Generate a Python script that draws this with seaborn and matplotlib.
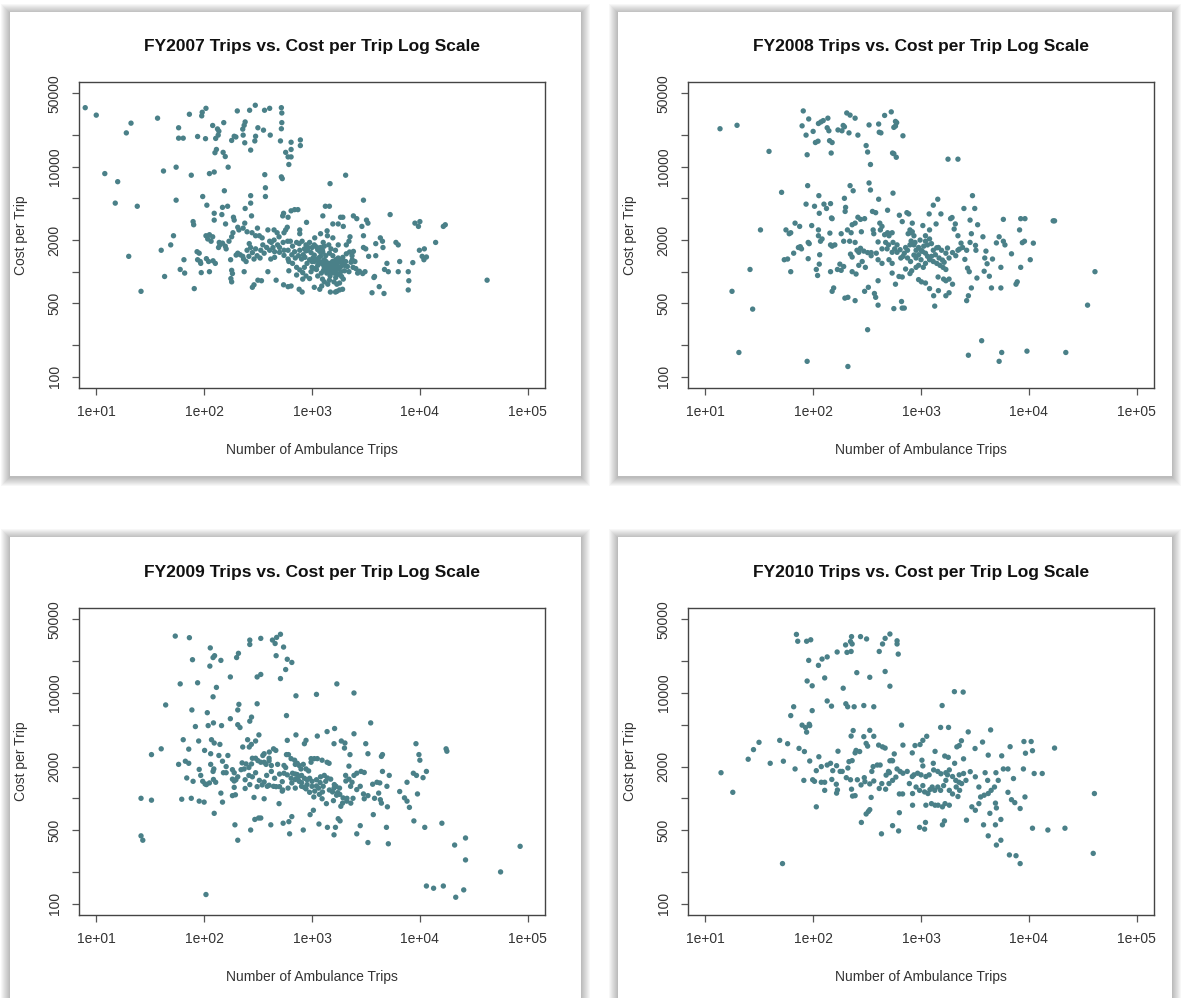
import matplotlib
matplotlib.use("Agg")
import matplotlib.pyplot as plt
from matplotlib.patches import Rectangle
from matplotlib.ticker import FixedLocator, NullLocator
import seaborn as sns
import pandas as pd

# --- data: (number of ambulance trips, cost per trip) ---
fy2007 = [
    (7.9, 36500), (10, 31000), (73, 31600), (95, 30500), (96, 33000), (104, 36000), (203, 34000), (264, 34500),
    (298, 38500), (363, 34500), (405, 36000), (520, 36500), (525, 32500), (37, 29000),
    (21, 26000), (19, 21000), (58, 23500), (58, 18700), (64, 18700), (87, 19400), (103, 18500), (120, 24700),
    (133, 22900), (137, 21800), (128, 18600), (135, 20000), (152, 26300), (190, 19500), (180, 17800), (197, 19200),
    (230, 20000), (235, 24800), (240, 26700), (228, 22800), (315, 23500), (355, 22300), (410, 20000), (295, 17600),
    (300, 19500), (238, 16900), (270, 14400), (525, 26300), (520, 23000), (510, 17600), (640, 17100), (640, 14600),
    (780, 18000), (780, 15900),
    (130, 14600), (126, 13600), (150, 13700), (157, 12500), (570, 13700), (600, 12400), (640, 12400), (610, 10500),
    (167, 9900), (42, 9100), (55, 9900), (12, 8600), (76, 8300), (112, 8600), (124, 8900), (365, 8400), (530, 7700),
    (520, 8000), (2050, 8300), (15.8, 7200), (1470, 6900), (370, 6300), (154, 5900),
    (97, 5200), (270, 5300), (370, 5200), (55, 4800), (3000, 4800), (15, 4500), (24, 4200), (106, 4300), (148, 4100),
    (165, 4200), (270, 4500), (240, 4000), (1330, 4200), (1450, 4200), (640, 3800), (690, 3900), (740, 3900),
    (124, 3600), (146, 3500), (275, 3400), (545, 3600), (535, 3400), (600, 3300), (1260, 3400), (1840, 3300),
    (1930, 3300), (2420, 3400), (2600, 3200), (5300, 3500),
    (79, 3000), (80, 2800), (124, 3100), (158, 2850), (190, 3100), (187, 3300), (238, 2900), (210, 2500), (205, 2650),
    (250, 2400), (230, 2600), (312, 2600), (390, 2500), (445, 2500), (475, 2350), (570, 2500), (590, 2650),
    (890, 2950), (1560, 2850), (1750, 2850), (1950, 2700), (2900, 2700), (3200, 3100), (3300, 2900), (9000, 2900),
    (10000, 3000), (9700, 2700), (16500, 2700), (17200, 2800), (770, 2500), (770, 2300), (1380, 2450),
    (52, 2200), (49, 1800), (104, 2200), (112, 2250), (108, 2050), (116, 1950), (120, 2150), (138, 1900), (140, 1800),
    (148, 1870), (157, 1750), (136, 1700), (170, 1950), (180, 2150), (185, 2350), (262, 1850), (278, 2350),
    (300, 2200), (325, 2200), (345, 2100), (405, 1950), (445, 2000), (495, 2150), (550, 2350), (595, 1950),
    (630, 1950), (810, 1950), (950, 1900), (1060, 2100), (1200, 2300), (1270, 1900), (1100, 1720), (880, 1800),
    (760, 1850), (1390, 2200), (1560, 2100), (1750, 1800), (1430, 1800), (2200, 1950), (2080, 1800), (2250, 2150),
    (3000, 2200), (3900, 1850), (4300, 2100), (4500, 1950), (6000, 1900), (6300, 1800), (14000, 1900),
    (40, 1600), (86, 1550), (90, 1500), (87, 1300), (92, 1250), (105, 1330), (110, 1250), (121, 1270), (127, 1200),
    (65, 1300), (20, 1400), (160, 1650), (176, 1300), (198, 1440), (205, 1500), (216, 1450), (228, 1400),
    (232, 1320), (245, 1250), (270, 1700), (280, 1520), (290, 1320), (310, 1420), (335, 1600), (360, 1500),
    (405, 1600), (415, 1320), (450, 1370), (480, 1800), (500, 1530), (540, 1900), (550, 1430), (600, 1320),
    (610, 1250), (435, 1700), (660, 1750), (720, 1900), (770, 1600), (830, 1450), (860, 1370), (800, 1320),
    (750, 1420), (690, 1550), (880, 1580), (910, 1600), (980, 1520), (1050, 1440), (1130, 1620), (1180, 1560),
    (1260, 1530), (1340, 1420), (1450, 1500), (1560, 1420), (1660, 1300), (1800, 1240), (1930, 1370), (2080, 1480),
    (2230, 1540), (2350, 1420), (2420, 1560), (1300, 1300), (1220, 1240), (1130, 1150), (1060, 1070), (980, 1000),
    (3000, 1700), (3150, 1650), (3350, 1400), (3900, 1420), (2360, 1300), (2500, 1250), (9900, 1600), (11000, 1650),
    (10500, 1400), (11500, 1380), (10900, 1300), (4950, 1200), (6500, 1250), (4550, 1700),
    (60, 1050), (66, 970), (93, 1200), (94, 980), (112, 1000), (43, 900), (180, 1030), (183, 960), (177, 860),
    (180, 800), (235, 1000), (390, 1000), (315, 830), (340, 820), (660, 1200), (720, 1100), (770, 1040), (820, 980),
    (880, 910), (950, 860), (820, 850), (720, 930), (610, 1020), (1370, 970), (1280, 1030), (1220, 970), (1130, 910),
    (1250, 850), (1450, 830), (1660, 880), (1800, 940), (1600, 970), (1470, 910), (1700, 1050), (1850, 1120),
    (2000, 1020), (2130, 1120), (2300, 1230), (1950, 1200), (1530, 1160), (1330, 1190), (1650, 1170), (1800, 780),
    (1950, 850), (1560, 1030), (2550, 1070), (2650, 970), (2750, 1010), (2950, 960), (3100, 1000), (3800, 900),
    (3750, 880), (4700, 1050), (5100, 1000), (6300, 1000), (7800, 1000), (8600, 1220),
    (26, 650), (81, 690), (280, 710), (290, 750), (465, 830), (545, 750), (600, 720), (640, 730), (760, 680),
    (810, 640), (1050, 710), (1180, 680), (1230, 730), (1480, 640), (1650, 640), (1700, 650), (1800, 670),
    (1920, 680), (3600, 630), (4200, 720), (4650, 620), (7900, 820), (7800, 670), (42000, 830),
    # the dense core around 1e+03 trips
    (1000, 1250), (1020, 1350), (1080, 1300), (1150, 1350), (1200, 1400), (1250, 1180), (1300, 1100), (1350, 1250),
    (1400, 1150), (1400, 1050), (1450, 1200), (1500, 1100), (1500, 980), (1550, 1250), (1600, 1150), (1620, 1060),
    (1700, 1200), (1720, 950), (1750, 1350), (1780, 1100), (1850, 1000), (1880, 900), (1900, 1300), (2000, 1150),
    (2050, 1250), (1150, 1250), (1100, 1050), (1000, 1100), (900, 1200), (850, 1100), (950, 1300), (1050, 1250),
    (1700, 760), (1600, 800), (1400, 760), (1300, 800), (2200, 1000), (2400, 1100), (1000, 1700), (1050, 1800),
    (920, 1700), (850, 1650), (1200, 1700), (1300, 1750), (1250, 1600), (1500, 1650), (1650, 1600), (600, 1600),
    (650, 1450), (700, 1350), (550, 1600), (500, 1700), (450, 1550), (380, 1700), (350, 1800), (420, 1900),
    (300, 1650), (330, 1350), (260, 1400), (250, 1600),
]

fy2008 = [
    (13.7, 23000), (19.7, 24800), (39, 14000), (51, 5700), (32.5, 2500), (26, 1050), (17.7, 650), (27.5, 440),
    (20.5, 170), (88, 140), (210, 125), (320, 280), (3650, 220), (2750, 160), (5300, 140), (5600, 170), (9600, 175),
    (22000, 170), (35000, 480), (41000, 1000),
    (81, 34000), (91, 28500), (79, 24500), (86, 20000), (100, 21700), (112, 25800), (118, 26700), (124, 27500),
    (137, 29000), (135, 23500), (140, 22000), (105, 17000), (111, 17500), (142, 17700), (150, 17000), (147, 13500),
    (88, 13000), (170, 22400), (185, 22000), (190, 24700), (195, 24000), (215, 21000), (205, 32500), (220, 31000),
    (245, 29000), (260, 20000), (330, 25000), (405, 25500), (410, 21300), (425, 21000), (310, 15900), (320, 13800),
    (340, 10500), (460, 30800), (530, 33300), (560, 23700), (580, 24400), (595, 26300), (580, 27000), (680, 19700),
    (545, 13500), (560, 13300), (590, 12300), (1780, 11800), (2200, 11800),
    (330, 7000), (340, 6000), (550, 5600), (405, 4900), (220, 6600), (235, 5900), (195, 5000), (200, 4100),
    (198, 3750), (89, 6600), (113, 5300), (103, 4200), (126, 4400), (145, 4450), (133, 4000), (114, 3600),
    (150, 3200), (86, 4400), (68, 2900), (75, 2700), (97, 2750),
    (56, 2500), (60, 2300), (62, 2350), (66, 1500), (54, 1300), (58, 1320), (62, 1000), (90, 1900), (92, 1850),
    (90, 1330), (73, 1700), (76, 1730), (78, 1650), (107, 1050), (110, 920), (114, 1180), (115, 1450), (112, 2500),
    (112, 2200), (117, 1950), (121, 2050),
    (145, 1800), (150, 1750), (159, 1800), (143, 2330), (148, 3250), (150, 650), (155, 700), (145, 1000),
    (168, 1050), (177, 1180), (182, 1030), (192, 1120),
    (182, 2300), (192, 1950), (208, 2500), (218, 1950), (245, 1900), (222, 1470), (230, 1380), (255, 1600),
    (265, 1530), (275, 1670), (295, 1570), (320, 1520), (345, 1520),
    (230, 2800), (245, 2900), (260, 3300), (275, 3150), (300, 3200), (280, 2400), (225, 2350),
    (197, 560), (210, 570), (245, 530), (300, 650), (325, 710), (380, 570), (400, 480), (370, 620),
    (230, 1000), (250, 950), (265, 1150), (285, 1250), (305, 1100), (345, 1420),
    (355, 3750), (380, 3650), (490, 3850), (360, 2500), (365, 2300), (415, 2900), (435, 2700), (420, 2500),
    (460, 2250), (490, 2350), (505, 2200), (540, 2350), (400, 1920), (385, 1500),
    (435, 1650), (485, 1650), (540, 1530), (570, 1650), (600, 1530), (640, 1620), (400, 1300), (435, 1200),
    (505, 1300), (540, 1200), (400, 820), (540, 970), (625, 900), (670, 890), (720, 1060), (580, 760), (560, 445),
    (660, 520), (670, 450), (700, 450),
    (630, 3450), (670, 3000), (740, 3650), (770, 3550), (830, 2900), (790, 2500), (760, 2300), (800, 2350),
    (830, 2400), (860, 2200), (810, 1960), (790, 1800), (830, 1850), (860, 1800), (900, 1600), (860, 1440),
    (820, 1020), (790, 960), (950, 1150), (1000, 1300), (1030, 1560), (1060, 1750),
    (1040, 2750), (1200, 2500), (1190, 3550), (1300, 4300), (1430, 4900), (1530, 3550), (1380, 2850),
    (1100, 1950), (1150, 1800), (1250, 1850), (1300, 1600), (1400, 1690), (1360, 1450), (1470, 1350), (1580, 1290),
    (1640, 1230), (1700, 1500), (1760, 1680), (1820, 1350), (1960, 1520), (2100, 1420), (2200, 1600), (2270, 1640),
    (2430, 1700), (2350, 1870), (2200, 2200), (2030, 2550), (1880, 3200), (1940, 3280), (2080, 2850),
    (950, 840), (1010, 800), (1100, 780), (1200, 690), (1310, 590), (1340, 470), (1440, 890), (1620, 850),
    (1700, 820), (1820, 850), (1960, 760), (1820, 630), (1700, 590), (1450, 660),
    (2500, 4000), (3000, 5300), (3150, 4000), (2850, 3100), (3350, 2800), (2930, 2300), (2850, 1900), (2650, 1600),
    (2550, 1310), (2700, 1080), (2800, 1000), (2930, 700), (2750, 590), (2650, 530),
    (3200, 1780), (3230, 1600), (3750, 2150), (4000, 1570), (3900, 1350), (4100, 1190), (3850, 1010), (4300, 905),
    (3300, 870), (4500, 700), (5500, 700), (4600, 1320), (5000, 1880), (5300, 2150), (5800, 1950), (6000, 1800),
    (5500, 1100), (6900, 1480),
    (5800, 3150), (8200, 2500), (8400, 3200), (9200, 3200), (8700, 1890), (9100, 1950), (11000, 1870),
    (10300, 1300), (8400, 1100), (7800, 800), (7600, 760), (16800, 3050), (17300, 3050),
    # denser centre
    (700, 1500), (720, 1700), (750, 1600), (680, 1400), (650, 1350), (750, 1350), (800, 1250), (900, 1350),
    (950, 1450), (1000, 1600), (1100, 1500), (1150, 1400), (1200, 1300), (1250, 1400), (1300, 1250), (1400, 1200),
    (1500, 1150), (1100, 1200), (1050, 1100), (900, 1100), (1600, 1100), (1700, 1050), (1550, 1600), (1450, 1700),
    (950, 1700), (880, 1900), (980, 2000), (1100, 2200), (1200, 2050), (600, 1800), (550, 1900), (470, 1900),
    (500, 1800),
]

fy2009 = [
    (54, 34700), (73, 33500), (78, 20700), (114, 26800), (121, 21700), (125, 22600), (143, 20400), (113, 18000),
    (200, 21700), (208, 23800), (265, 31800), (265, 28900), (335, 33000), (430, 31800), (455, 29500), (470, 33700),
    (510, 36100), (545, 27300), (465, 22600), (590, 20900), (650, 19500), (570, 16700), (510, 13700),
    (175, 14200), (310, 14200), (335, 15000), (60, 12200), (87, 12500), (130, 11300), (121, 9200), (710, 9400),
    (1100, 9700), (1700, 12200), (2450, 10000),
    (44, 7700), (77, 6900), (107, 6500), (210, 7800), (205, 6900), (310, 7900), (580, 6100), (275, 5900),
    (265, 5400), (3500, 5200),
    (83, 4800), (109, 4900), (122, 5200), (145, 4900), (175, 5700), (205, 5000), (215, 4700), (322, 4000),
    (64, 3600), (89, 3500), (117, 3600), (124, 3350), (140, 3250), (72, 2930), (101, 2850), (115, 2650), (253, 3600),
    (274, 3250), (262, 3070), (228, 3070), (300, 3500), (402, 2750), (440, 2950), (462, 2850), (360, 2650),
    (880, 3550), (850, 3300), (710, 4000), (590, 3550), (580, 2600), (1120, 3900), (1380, 4300), (1620, 4600),
    (1600, 3300), (1870, 3500), (2020, 3350), (2000, 3000), (2450, 4100), (3150, 3300), (3300, 2650), (2250, 2600),
    (4500, 2600), (4400, 2500), (9200, 3300), (9800, 2600), (10000, 2300), (17500, 2950), (17800, 2800),
    (32.5, 2600), (40, 2950), (26, 1000), (32.5, 960), (26, 440), (27, 400), (104, 122), (58, 2100), (67, 2250),
    (72, 2150), (69, 1560), (79, 1450), (62, 980), (76, 1000), (90, 940), (100, 920), (124, 720), (148, 920),
    (143, 1120),
    (193, 560), (205, 400), (270, 500), (295, 630), (320, 650), (335, 650), (415, 560), (540, 580), (610, 600),
    (620, 460), (650, 670), (830, 500),
    (960, 700), (1030, 770), (1160, 570), (1390, 530), (1650, 530), (1600, 450), (1820, 610), (2600, 460),
    (2800, 550), (3300, 380), (3700, 700), (4900, 530), (5100, 370),
    (8800, 610), (11100, 530), (16000, 580), (21000, 360), (26500, 420), (26500, 260), (56000, 200), (85000, 350),
    (11500, 147), (13400, 140), (16500, 147), (21500, 115), (25500, 135),
    (90, 1880), (93, 1650), (97, 1450), (102, 1370), (105, 1350), (112, 1400), (122, 1510), (128, 1420),
    (115, 2100), (123, 1900), (121, 1800),
    (137, 2550), (148, 2250), (160, 2000), (151, 1750), (166, 2550), (160, 1750), (183, 1870), (190, 1750),
    (183, 1520), (190, 1460), (197, 1500), (190, 1270), (183, 1060), (195, 1080), (205, 1600),
    (225, 2170), (220, 1870), (235, 1900), (245, 2120), (260, 1960), (275, 2120), (280, 2400), (300, 2400),
    (315, 2280), (335, 2200), (350, 2550), (360, 2200), (375, 2100), (400, 2400), (400, 2270),
    (240, 1240), (265, 1350), (290, 1020), (310, 1290), (325, 1480), (345, 1340), (360, 1430), (385, 1300),
    (400, 1330), (440, 1300), (465, 1290), (500, 1290), (495, 890), (530, 1440), (550, 1730), (570, 1960),
    (530, 1170), (535, 1200), (360, 990),
    (605, 2600), (640, 2380), (690, 2300), (700, 2100), (730, 2150), (760, 2050), (790, 1900), (830, 2100),
    (880, 1900), (930, 1820), (980, 2380), (980, 2200), (1050, 2380), (1120, 2380), (1240, 2300), (1380, 2200),
    (1440, 2150),
    (590, 1670), (640, 1550), (660, 1730), (700, 1510), (730, 1680), (760, 1450), (800, 1410), (850, 1270),
    (880, 1230), (950, 1140), (1060, 1170), (1100, 1310), (1190, 1410), (1270, 1300), (1340, 1450), (1390, 1560),
    (1490, 1520), (1610, 1350), (1670, 1300), (1730, 1130), (1810, 1090), (1940, 1010), (2100, 940), (1850, 840),
    (1750, 640),
    (1040, 1030), (1170, 1090), (1240, 990), (1360, 890), (1580, 950), (1690, 1070), (1920, 900), (2110, 1000),
    (2290, 900), (2400, 1000), (2600, 1210), (2800, 1300), (3000, 1100), (3300, 1060), (3050, 990), (3650, 1360),
    (2050, 1650), (2200, 1520), (2350, 1420), (2280, 1300), (2450, 1650), (2600, 1730), (2850, 1800), (3050, 1760),
    (2200, 2020), (2060, 1460),
    (4000, 1420), (4250, 1400), (4500, 1800), (4950, 1300), (4150, 1120), (4300, 970), (4400, 900), (5000, 830),
    (3800, 1000), (5200, 1650), (6500, 1160), (7200, 1010), (7600, 940), (8000, 820), (7600, 1420), (8700, 1730),
    (9300, 1650), (10700, 1570), (11500, 1800), (9500, 1100),
    # denser centre
    (700, 1700), (750, 1600), (800, 1650), (850, 1550), (900, 1500), (950, 1550), (1000, 1450), (1100, 1500),
    (1200, 1600), (1300, 1650), (1000, 1300), (900, 1350), (800, 1300), (1150, 1250), (1250, 1150), (1450, 1200),
    (1550, 1150), (1600, 1250), (1800, 1250), (650, 1400), (600, 1250), (700, 1250), (500, 1700), (450, 1550),
    (420, 1800), (380, 1650), (300, 1750), (280, 1600), (260, 1650), (240, 1500), (420, 2050), (480, 2100),
    (550, 2050),
]

fy2010 = [
    (14, 1750), (18, 1140), (25, 2350), (28, 2900), (31.5, 3400), (40, 2150), (49, 3550), (53, 2250), (58, 3300),
    (52, 240),
    (62, 6100), (66, 7400), (74, 2980), (79, 4950), (83, 2780), (87, 4250), (85, 4700), (92, 5050), (93, 4900),
    (93, 2260), (68, 1900), (82, 1480), (99, 1500), (103, 1450), (107, 1830), (113, 2480), (119, 2000), (119, 1420),
    (128, 1420), (128, 1190), (107, 830),
    (70, 36000), (72, 31000), (87, 31000), (95, 32000), (91, 20400), (98, 11700), (88, 13000), (98, 6800),
    (112, 18300), (121, 21000), (135, 22000), (128, 13900), (167, 24500), (200, 28600), (206, 24300), (225, 24800),
    (222, 30800), (227, 34300), (230, 29200), (254, 15600), (275, 34300), (313, 32600), (335, 14100), (190, 11100),
    (201, 7900), (209, 7400), (240, 7400), (135, 8400), (148, 7500), (295, 7600), (365, 7400), (410, 24800),
    (440, 29200), (465, 33000), (515, 36300), (465, 16000), (515, 11600), (600, 31300), (600, 29200), (615, 23400),
    (2040, 10300), (2460, 10200), (1570, 7600),
    (170, 2800), (215, 2230), (230, 2280), (225, 3900), (235, 4400), (245, 2700), (250, 2850), (270, 2780),
    (295, 3850), (310, 3320), (320, 3130), (335, 4420), (365, 3880), (405, 3200), (440, 3080), (465, 3000),
    (515, 2270), (545, 2270), (565, 2640), (660, 4950), (680, 3200), (830, 2700), (880, 3170), (980, 3240),
    (1040, 3550), (1130, 3880), (1020, 2300), (1300, 2150), (1350, 2790), (1520, 4710), (1800, 4710), (1660, 2520),
    (1790, 2450), (2050, 2150), (2150, 3080), (2260, 3170), (2370, 3520), (2480, 2370), (2740, 4270), (3170, 2970),
    (3720, 3420), (4200, 2570), (4420, 4460), (5600, 2530), (6700, 3090), (9000, 3460), (10500, 3460),
    (10800, 2830), (9300, 2680), (17300, 3000),
    (40500, 1110), (39500, 300), (21600, 520), (15000, 500), (10800, 520), (6600, 290), (7600, 285), (8300, 240),
    (5000, 360), (5500, 400), (4200, 440), (4900, 560), (3800, 560), (5500, 630), (4350, 720), (4900, 900),
    (2640, 620), (2960, 830), (3190, 770), (3440, 890), (3570, 1030), (3850, 1070), (4200, 1110), (4470, 1190),
    (4800, 1280), (5200, 1480), (4150, 1480), (3440, 1280), (3190, 1600), (2860, 1790), (2610, 1480), (2380, 1380),
    (2280, 1190), (2200, 1040), (1830, 860), (1670, 890), (1580, 830), (1580, 560), (1650, 610), (1440, 860),
    (1350, 860), (1250, 890), (1110, 860), (1100, 590), (1080, 510), (970, 530), (835, 860), (630, 730), (620, 490),
    (545, 550), (430, 460), (280, 590), (310, 710), (325, 750), (335, 780), (345, 1020), (365, 1460), (410, 1240),
    (470, 1220), (505, 1380), (545, 1480), (585, 1590), (630, 1100), (675, 1100), (780, 1380), (835, 1110),
    (900, 1280), (970, 1190), (1040, 1320), (1080, 1150), (1160, 1110), (1210, 1210), (1270, 1280), (1340, 1190),
    (1430, 1280), (1520, 1190), (1620, 1320), (1700, 1480), (1830, 1190), (1960, 1100), (2120, 1280), (2250, 1420),
    (2480, 1720), (9200, 1030), (6900, 970), (7400, 910), (8300, 800), (6400, 1140), (7200, 1540), (5800, 1900),
    (6400, 1900), (8900, 1900), (11200, 1720), (13300, 1720), (4950, 1750), (3930, 1750), (5000, 810),
    (135, 2070), (145, 2150), (152, 1830), (165, 2040), (178, 1800), (186, 1800), (149, 1510), (164, 1360),
    (165, 1120), (168, 1200), (210, 1940), (203, 1570), (227, 1220), (232, 1050), (245, 1060), (222, 1500),
    (257, 1500), (278, 1340), (298, 1570), (302, 1440), (335, 1370), (350, 1800), (360, 2000), (393, 2070),
    (418, 2070), (433, 1380), (475, 1660), (500, 1800), (510, 1750), (535, 2290), (600, 1900), (640, 1800),
    (680, 1730), (745, 1800), (830, 1610), (860, 1670), (930, 1730), (1000, 1670), (1040, 2030), (1110, 1610),
    (1190, 1670), (1310, 1860), (1430, 1800), (1530, 1710), (1700, 1750), (1760, 1670), (1830, 1860), (1960, 1610),
    (2100, 1480), (2260, 1670),
]

years = ["FY2007", "FY2008", "FY2009", "FY2010"]
x_ticks = [10, 100, 1000, 10000, 100000]
x_labels = ["1e+01", "1e+02", "1e+03", "1e+04", "1e+05"]
y_ticks = [100, 200, 500, 1000, 2000, 5000, 10000, 20000, 50000]
y_labels = ["100", "", "500", "", "2000", "", "10000", "", "50000"]

POINT = "#4a8088"
W, H = 1186, 998

sns.set_style("white")
plt.rcParams["font.family"] = ["Liberation Sans", "DejaVu Sans"]

fig = plt.figure(figsize=(W / 100, H / 100), dpi=100)
fig.patch.set_facecolor("white")


def fbox(l, t, r, b):
    # pixel box -> figure fraction [left, bottom, width, height]
    return [l / W, 1 - b / H, (r - l) / W, (b - t) / H]


# panel frames: white cards with a soft blurred shadow
panels = [(10, 12, 581, 476), (618, 12, 1172, 476), (10, 537, 581, 1010), (618, 537, 1172, 1010)]
for l, t, r, b in panels:
    for i in range(9, 0, -1):
        x0, y0, w, h = fbox(l - i, t - i + 1, r + i, b + i + 1)
        fig.patches.append(Rectangle((x0, y0), w, h, transform=fig.transFigure,
                                     facecolor="black", edgecolor="none", alpha=0.03, zorder=0))
    x0, y0, w, h = fbox(l, t, r, b)
    fig.patches.append(Rectangle((x0, y0), w, h, transform=fig.transFigure,
                                 facecolor="white", edgecolor="none", zorder=1))

axes_boxes = [(79, 82, 545, 388), (688, 82, 1154, 388), (79, 608, 545, 915), (688, 608, 1154, 915)]
data = [fy2007, fy2008, fy2009, fy2010]

for year, pts, (l, t, r, b) in zip(years, data, axes_boxes):
    df = pd.DataFrame(pts, columns=["trips", "cost"])
    ax = fig.add_axes(fbox(l, t, r, b), zorder=2)
    ax.set_facecolor("white")
    sns.scatterplot(data=df, x="trips", y="cost", ax=ax, color=POINT, s=15,
                    linewidth=0, edgecolor="none", legend=False)
    ax.set_xscale("log")
    ax.set_yscale("log")
    ax.set_xlim(10 ** 0.84, 10 ** 5.16)
    ax.set_ylim(10 ** 1.892, 10 ** 4.807)
    ax.xaxis.set_major_locator(FixedLocator(x_ticks))
    ax.xaxis.set_minor_locator(NullLocator())
    ax.yaxis.set_major_locator(FixedLocator(y_ticks))
    ax.yaxis.set_minor_locator(NullLocator())
    ax.set_xticklabels(x_labels)
    ax.set_yticklabels(y_labels)
    ax.tick_params(axis="both", which="major", direction="out", length=5, width=0.9,
                   color="#555555", labelsize=10, labelcolor="#333333", pad=7.5)
    ax.tick_params(axis="x", bottom=True, top=False)
    ax.tick_params(axis="y", left=True, right=False)
    for lbl in ax.get_yticklabels():
        lbl.set_rotation(90)
        lbl.set_va("center")
    for sp in ax.spines.values():
        sp.set_visible(True)
        sp.set_color("#444444")
        sp.set_linewidth(1.0)
    ax.set_xlabel("")
    ax.set_ylabel("")

    cx = (l + r) / 2
    cy = (t + b) / 2
    fig.text(cx / W, 1 - (t - 35) / H, f"{year} Trips vs. Cost per Trip Log Scale",
             ha="center", va="center", fontsize=12.5, fontweight="bold", color="#111111")
    fig.text(cx / W, 1 - (b + 62) / H, "Number of Ambulance Trips",
             ha="center", va="center", fontsize=10, color="#333333")
    fig.text((l - 58) / W, 1 - cy / H, "Cost per Trip", rotation=90,
             ha="center", va="center", fontsize=10, color="#333333")

fig.savefig("out.png", dpi=100, facecolor="white")
